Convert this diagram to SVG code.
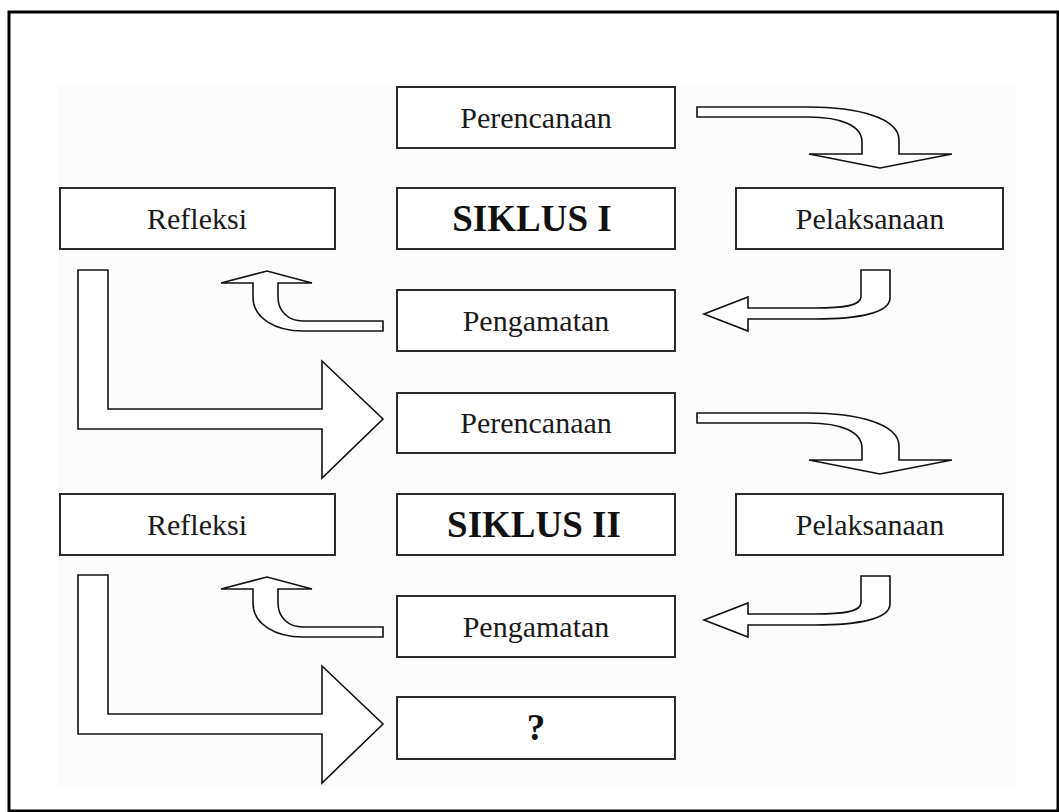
<svg xmlns="http://www.w3.org/2000/svg" width="1059" height="812" viewBox="0 0 1059 812">
<defs>
<style>
.box{fill:#ffffff;stroke:#2a2a2a;stroke-width:2}
.arr{fill:#ffffff;stroke:#111111;stroke-width:1.6;stroke-linejoin:miter}
.t{font-family:"Liberation Serif","Times New Roman",serif;font-size:30px;fill:#1a1a1a;text-anchor:middle}
.b{font-family:"Liberation Serif","Times New Roman",serif;font-size:37px;font-weight:bold;fill:#111111;text-anchor:middle}
</style>
<path id="rd" d="M697,107 H808 C858,107 899,118 899,140 V154 H952 L880,168 L809,154 H862 V142 C862,126 842,117 808,117 H697 Z"/>
<path id="lf" d="M704,314 L748,297 V308 H815 C842,308 861,306 861,297 V270 H890 V298 C890,313 858,319 815,319 H748 V331 Z"/>
<path id="up" d="M383,321 H303 C288,321 278,311 278,297 V283 H312 L267,271 L221,283 H253 V297 C253,318 275,331 303,331 H383 Z"/>
<path id="bl" d="M78,270 H108 V409 H322 V361 L383,419 L322,478 V429 H78 Z"/>
</defs>
<rect x="0" y="0" width="1059" height="812" fill="#ffffff"/>
<rect x="58" y="85" width="957" height="701" fill="#fcfcfc"/>
<rect x="9" y="12" width="1049" height="799" fill="none" stroke="#000000" stroke-width="3"/>

<g id="connectors">
<use href="#rd" class="arr"/>
<use href="#lf" class="arr"/>
<use href="#up" class="arr"/>
<use href="#bl" class="arr"/>
<use href="#rd" class="arr" transform="translate(0,306)"/>
<use href="#lf" class="arr" transform="translate(0,306)"/>
<use href="#up" class="arr" transform="translate(0,306)"/>
<use href="#bl" class="arr" transform="translate(0,305)"/>
</g>

<g id="perencanaan1"><rect class="box" x="397" y="87" width="278" height="61"/><text class="t" x="536" y="128">Perencanaan</text></g>
<g id="refleksi1"><rect class="box" x="60" y="188" width="275" height="61"/><text class="t" x="197" y="229">Refleksi</text></g>
<g id="siklus1"><rect class="box" x="397" y="188" width="278" height="61"/><text class="b" x="532" y="231">SIKLUS I</text></g>
<g id="pelaksanaan1"><rect class="box" x="736" y="188" width="267" height="61"/><text class="t" x="870" y="229">Pelaksanaan</text></g>
<g id="pengamatan1"><rect class="box" x="397" y="290" width="278" height="61"/><text class="t" x="536" y="331">Pengamatan</text></g>

<g id="perencanaan2"><rect class="box" x="397" y="393" width="278" height="60"/><text class="t" x="536" y="433">Perencanaan</text></g>
<g id="refleksi2"><rect class="box" x="60" y="494" width="275" height="61"/><text class="t" x="197" y="535">Refleksi</text></g>
<g id="siklus2"><rect class="box" x="397" y="494" width="278" height="61"/><text class="b" x="534" y="537">SIKLUS II</text></g>
<g id="pelaksanaan2"><rect class="box" x="736" y="494" width="267" height="61"/><text class="t" x="870" y="535">Pelaksanaan</text></g>
<g id="pengamatan2"><rect class="box" x="397" y="596" width="278" height="61"/><text class="t" x="536" y="637">Pengamatan</text></g>
<g id="hasil"><rect class="box" x="397" y="697" width="278" height="62"/><text class="b" x="536" y="740">?</text></g>
</svg>
